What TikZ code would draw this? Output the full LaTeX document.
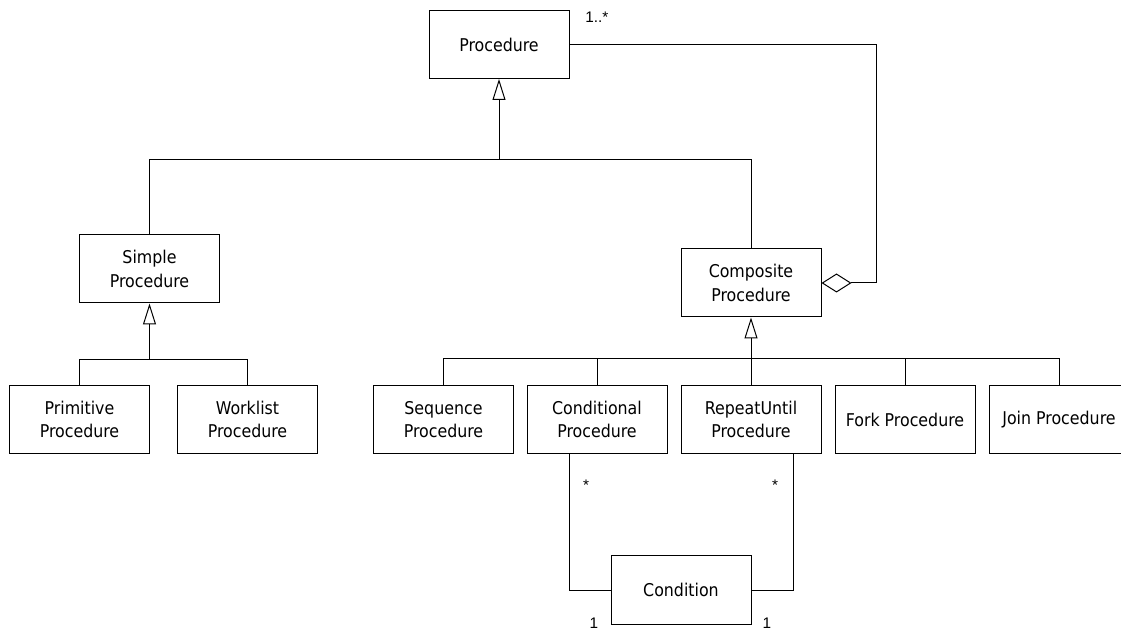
\documentclass[tikz,border=0pt]{standalone}
\usepackage{fontspec}
\setmainfont{DejaVu Sans Condensed}
\newfontfamily\lblfont{Liberation Sans}
\usetikzlibrary{arrows.meta}
\begin{document}
\begin{tikzpicture}[x=0.75pt,y=-0.75pt,
  cls/.style={draw,line width=0.75pt,minimum width=105pt,minimum height=51pt,
    align=center,inner sep=0pt,font=\fontsize{13.2pt}{17.6pt}\selectfont},
  conn/.style={line width=0.75pt},
  gen/.style={conn,-{Triangle[open,length=15.75pt,width=9.75pt,fill=white]}},
  agg/.style={conn,-{Diamond[open,length=22.5pt,width=14.25pt,fill=white]}},
  lbl/.style={inner sep=0pt,font=\lblfont\fontsize{11.5pt}{13pt}\selectfont}]
\useasboundingbox (0,0) rectangle (1121,630);
% classes
\node[cls] (proc) at (499,44.5) {Procedure};
\node[cls] (simple) at (149.5,269) {Simple\\Procedure};
\node[cls] (comp) at (751,283) {Composite\\Procedure};
\node[cls] (prim) at (79.5,419.5) {Primitive\\Procedure};
\node[cls] (work) at (247.5,419.5) {Worklist\\Procedure};
\node[cls] (seq) at (443.5,419.5) {Sequence\\Procedure};
\node[cls] (cond) at (597,419.5) {Conditional\\Procedure};
\node[cls] (rep) at (751,419.5) {RepeatUntil\\Procedure};
\node[cls] (fork) at (905,419.5) {Fork Procedure};
\node[cls] (join) at (1059,419.5) {Join Procedure};
\node[cls] (condition) at (681,590) {Condition};
% junction points
\coordinate (j1) at (499,160);
\coordinate (j2) at (149.5,360);
\coordinate (j3) at (751,359);
\coordinate (ag) at (876,283);
\coordinate (ca) at (569,590);
\coordinate (cb) at (793,590);
% generalisations
\draw[conn] (simple.north) |- (j1);
\draw[conn] (comp.north) |- (j1);
\draw[gen] (j1) -- (proc.south);
\draw[conn] (prim.north) |- (j2);
\draw[conn] (work.north) |- (j2);
\draw[gen] (j2) -- (simple.south);
\draw[conn] (seq.north) |- (j3);
\draw[conn] (cond.north) |- (j3);
\draw[conn] (rep.north) -- (j3);
\draw[conn] (fork.north) |- (j3);
\draw[conn] (join.north) |- (j3);
\draw[gen] (j3) -- (comp.south);
% aggregation
\draw[agg] (proc.east) -| (ag) -- (comp.east);
% associations
\draw[conn] (ca |- cond.south) -- (ca) -- (condition.west);
\draw[conn] (cb |- rep.south) -- (cb) -- (condition.east);
% multiplicities
\node[lbl,anchor=base west] (m1) at (585,23) {1..*};
\node[lbl,anchor=base] (m2) at (586,491) {*};
\node[lbl,anchor=base] (m3) at (775,491) {*};
\node[lbl,anchor=base] (m4) at (594,628) {1};
\node[lbl,anchor=base] (m5) at (767,628) {1};
\end{tikzpicture}
\end{document}
